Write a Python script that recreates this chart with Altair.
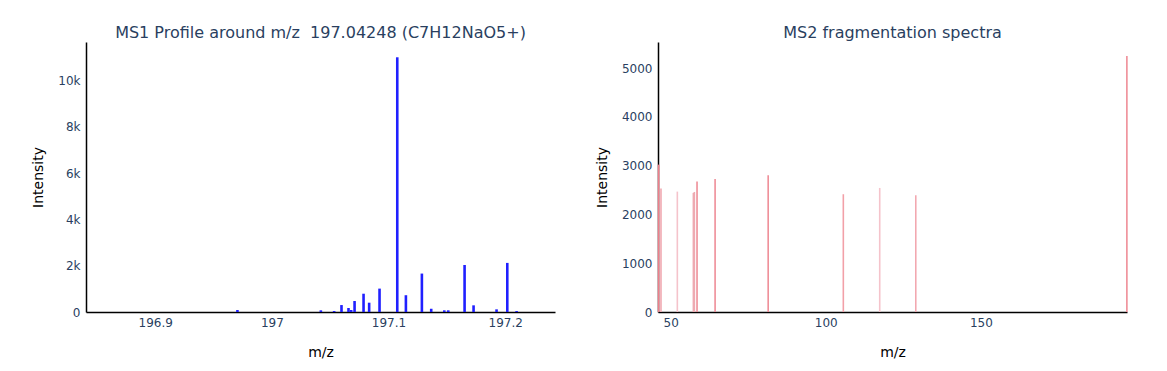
import altair as alt
import pandas as pd

# MS1 profile peaks (m/z, intensity)
ms1_mz = [196.9705, 197.0420, 197.0534, 197.0597, 197.0657, 197.0680, 197.0709,
          197.0786, 197.0834, 197.0923, 197.1075, 197.1149, 197.1286, 197.1366,
          197.1478, 197.1512, 197.1652, 197.1729, 197.1926, 197.2018, 197.2098]
ms1_int = [86, 72, 43, 300, 172, 86, 474, 790, 402, 1010, 11000, 725, 1660, 140,
           72, 72, 2030, 288, 115, 2120, 43]

# MS2 fragmentation peaks
ms2_mz = [46.12, 46.88, 52.15, 57.32, 57.64, 58.50, 64.32, 81.43, 105.65, 117.38, 129.00, 197.04]
ms2_int = [3022, 2531, 2469, 2442, 2462, 2674, 2729, 2804, 2415, 2544, 2394, 5252]
ms2_color = ["#ee7f8a", "#f0a8b0", "#f5c3cb", "#eeaab2", "#eeaab2", "#ef8e98",
             "#ef8e98", "#ef8e98", "#f2a0a8", "#f5c3cb", "#f2a8b0", "#ef8e98"]

FONT = "DejaVu Sans"
TICK_COLOR = "#2a3f5f"

ms1 = pd.DataFrame({"mz": ms1_mz, "intensity": ms1_int})
ms2 = pd.DataFrame({"mz": ms2_mz, "intensity": ms2_int, "color": ms2_color})

def title(text):
    return alt.TitleParams(text=text, font=FONT, fontSize=16, fontWeight="normal",
                           color=TICK_COLOR, anchor="middle", offset=1)

left = alt.Chart(ms1, title=title("MS1 Profile around m/z\u00a0 197.04248 (C7H12NaO5+)")).mark_rule(
    color="#2020ff", strokeWidth=2.6
).encode(
    x=alt.X("mz:Q", title="m/z",
            scale=alt.Scale(domain=[196.8407, 197.2427], nice=False, zero=False),
            axis=alt.Axis(values=[196.9, 197.0, 197.1, 197.2], format=".4~g")),
    y=alt.Y("intensity:Q", title="Intensity",
            scale=alt.Scale(domain=[0, 11660], nice=False),
            axis=alt.Axis(values=[0, 2000, 4000, 6000, 8000, 10000],
                          labelExpr="datum.value == 0 ? '0' : format(datum.value, '~s')")),
    y2=alt.datum(0),
).properties(width=469, height=270)

right = alt.Chart(ms2, title=title("MS2 fragmentation spectra")).mark_rule(
    strokeWidth=1.6
).encode(
    x=alt.X("mz:Q", title="m/z",
            scale=alt.Scale(domain=[45.92, 197.08], nice=False, zero=False),
            axis=alt.Axis(values=[50, 100, 150], format="d")),
    y=alt.Y("intensity:Q", title="Intensity",
            scale=alt.Scale(domain=[0, 5537], nice=False),
            axis=alt.Axis(values=[0, 1000, 2000, 3000, 4000, 5000], format="d")),
    y2=alt.datum(0),
    color=alt.Color("color:N", scale=None),
).properties(width=469, height=270)

chart = alt.hconcat(left, right, spacing=40).properties(
    padding={"left": 23, "top": 17, "right": 0, "bottom": 0}
).configure_view(stroke=None).configure_axis(
    grid=False,
    ticks=False,
    domainColor="#000000",
    domainWidth=1.5,
    labelFont=FONT,
    labelFontSize=12,
    labelColor=TICK_COLOR,
    labelPadding=6,
    titleFont=FONT,
    titleFontSize=14,
    titleFontWeight="normal",
    titleColor="#000000",
    titlePadding=12,
).configure_axisX(labelPadding=5, titlePadding=17)

chart.save("out.html", embed_options={"renderer": "svg", "actions": False})
